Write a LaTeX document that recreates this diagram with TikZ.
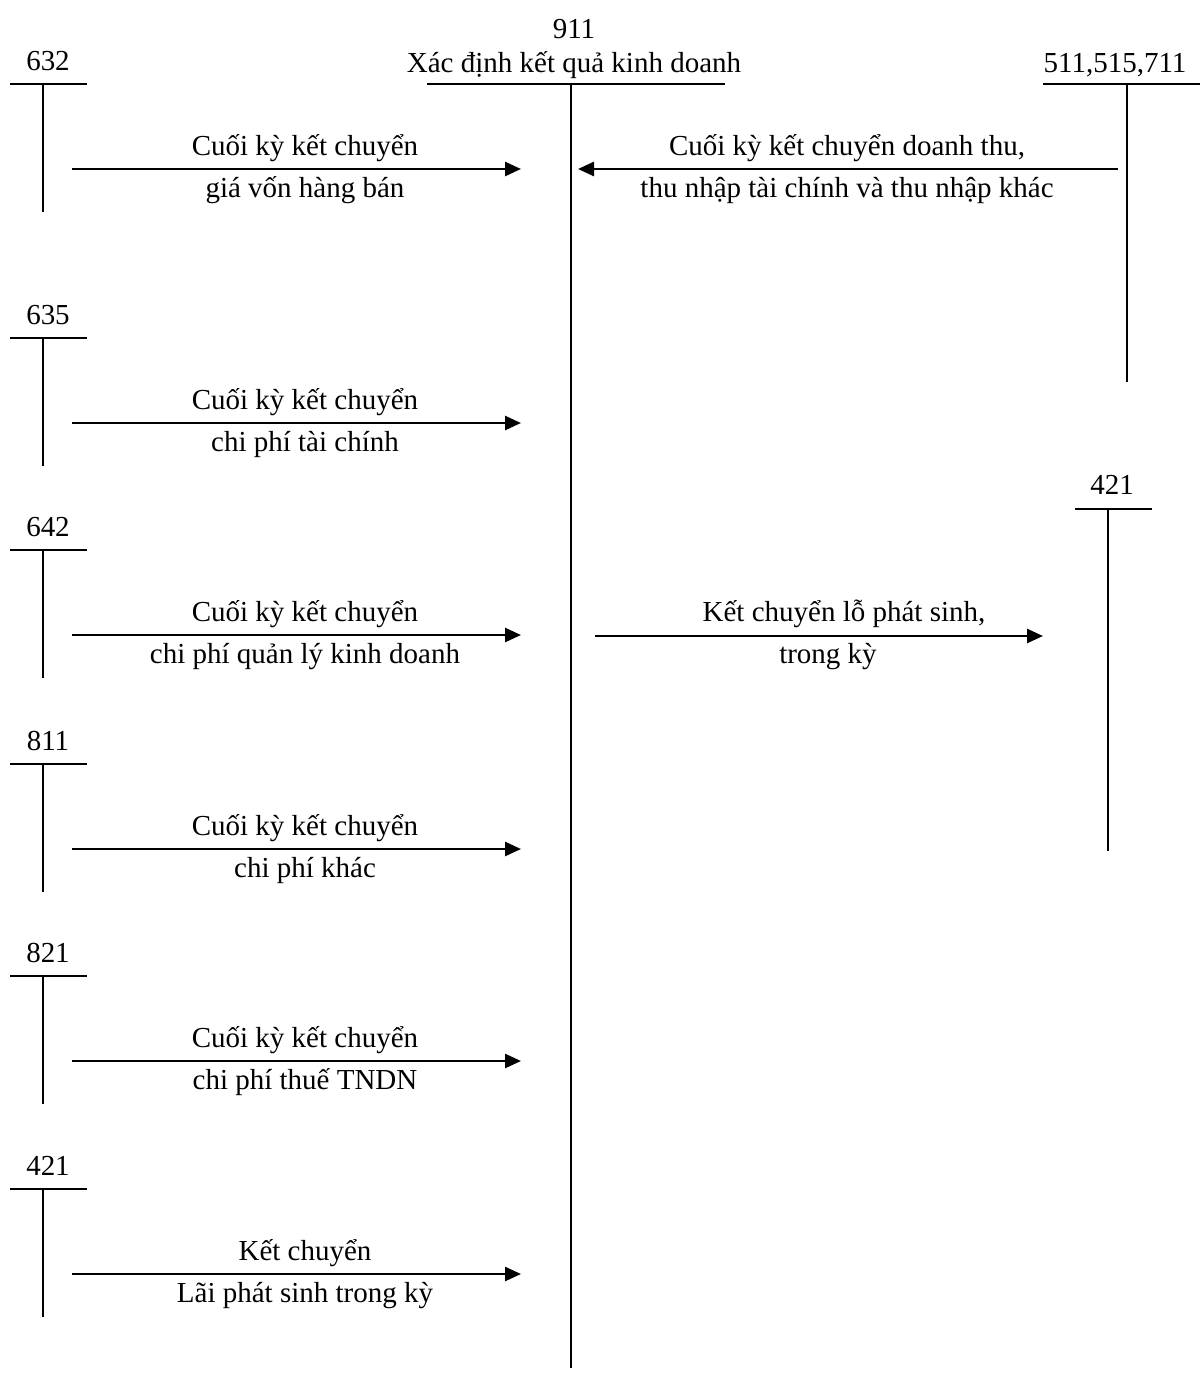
\documentclass[tikz,border=0pt]{standalone}
\usepackage{fontspec}
\setmainfont{Liberation Serif}
\usetikzlibrary{arrows.meta}
\begin{document}
\begin{tikzpicture}[x=1pt,y=-1pt,
  tline/.style={line width=1.8pt},
  flow/.style={line width=2.6pt,-{Triangle[length=16pt,width=14pt]}},
  txt/.style={font=\fontsize{29}{34}\selectfont,anchor=base,inner sep=0pt}]
\fill[white] (0,0) rectangle (1200,1398);
\useasboundingbox (0,0) rectangle (1200,1398);

% ---- 911 central account
\node[txt] (n911) at (574,38) {911};
\node[txt] (t911) at (574,72) {Xác định kết quả kinh doanh};
\coordinate (c911L) at (427,84);
\coordinate (c911R) at (725,84);
\coordinate (c911T) at (571,84);
\coordinate (c911B) at (571,1368);
\draw[tline] (c911L) -- (c911R);
\draw[tline] (c911T) -- (c911B);

% ---- left accounts
\foreach \nm/\L/\ta/\tb in {
  632/84/{Cuối kỳ kết chuyển}/{giá vốn hàng bán},
  635/338/{Cuối kỳ kết chuyển}/{chi phí tài chính},
  642/550/{Cuối kỳ kết chuyển}/{chi phí quản lý kinh doanh},
  811/764/{Cuối kỳ kết chuyển}/{chi phí khác},
  821/976/{Cuối kỳ kết chuyển}/{chi phí thuế TNDN},
  421/1189/{Kết chuyển}/{Lãi phát sinh trong kỳ}} {
  \node[txt] (lab\nm) at (48,\L-14) {\nm};
  \coordinate (acc\nm L) at (10,\L);
  \coordinate (acc\nm R) at (87,\L);
  \coordinate (acc\nm T) at (43,\L);
  \coordinate (acc\nm B) at (43,\L+128);
  \draw[tline] (acc\nm L) -- (acc\nm R);
  \draw[tline] (acc\nm T) -- (acc\nm B);
  \coordinate (s\nm) at (72,\L+85);
  \coordinate (e\nm) at (521,\L+85);
  \draw[flow] (s\nm) -- (e\nm);
  \node[txt] (up\nm) at (305,\L+71) {\ta};
  \node[txt] (dn\nm) at (305,\L+113) {\tb};
}

% ---- 511,515,711
\node[txt] (lab511) at (1115,72) {511,515,711};
\coordinate (acc511L) at (1043,84);
\coordinate (acc511R) at (1200,84);
\coordinate (acc511T) at (1127,84);
\coordinate (acc511B) at (1127,382);
\draw[tline] (acc511L) -- (acc511R);
\draw[tline] (acc511T) -- (acc511B);
\coordinate (s511) at (1118,169);
\coordinate (e511) at (578,169);
\draw[flow] (s511) -- (e511);
\node[txt] (up511) at (847,155) {Cuối kỳ kết chuyển doanh thu,};
\node[txt] (dn511) at (847,197) {thu nhập tài chính và thu nhập khác};

% ---- 421 right
\node[txt] (labR421) at (1112,494) {421};
\coordinate (accR421L) at (1075,509);
\coordinate (accR421R) at (1152,509);
\coordinate (accR421T) at (1108,509);
\coordinate (accR421B) at (1108,851);
\draw[tline] (accR421L) -- (accR421R);
\draw[tline] (accR421T) -- (accR421B);
\coordinate (sR421) at (595,636);
\coordinate (eR421) at (1043,636);
\draw[flow] (sR421) -- (eR421);
\node[txt] (upR421) at (844,621) {Kết chuyển lỗ phát sinh,};
\node[txt] (dnR421) at (828,663) {trong kỳ};
\end{tikzpicture}
\end{document}
